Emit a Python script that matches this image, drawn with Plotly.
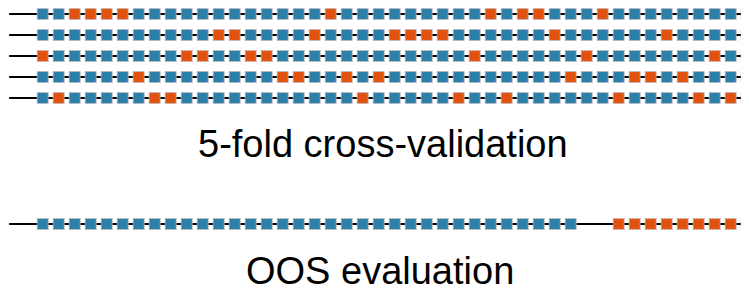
import plotly.graph_objects as go

# ---- data ----
n_samples = 45
fold_test_idx = [
    [2, 3, 4, 5, 18, 28, 30, 31, 35],
    [11, 12, 17, 22, 23, 24, 25, 32, 39],
    [0, 9, 10, 13, 14, 27, 34, 42, 44],
    [6, 15, 16, 19, 21, 33, 37, 38, 40],
    [1, 7, 8, 20, 26, 29, 36, 41, 43],
]
oos_train_idx = list(range(0, 34))
oos_test_idx = list(range(36, 45))
fold_rows = [0, 1, 2, 3, 4]
oos_row = 10
labels = ["5-fold cross-validation", "OOS evaluation"]
label_x = [21.27, 21.05]
label_rows = [6.2, 12.25]

BLUE = "#2b7fa8"
ORANGE = "#e0520e"
EDGE = "rgba(185,185,185,0.75)"

# the page body has an 8px default margin; figure sized so it ends at the window edge
FIG_W, FIG_H = 741, 281
X0_PX, DX_PX = 34.7, 16.0   # figure px of index 0, px per index
Y0_PX, DY_PX = 6.0, 21.0    # figure px of row 0, px per row

fig = go.Figure()

line_x = [-2.1, n_samples + 2]

def add_row(row, train, test):
    fig.add_trace(go.Scatter(x=line_x, y=[row, row], mode="lines",
                             line=dict(color="black", width=2),
                             hoverinfo="skip", showlegend=False))
    fig.add_trace(go.Scatter(x=train, y=[row] * len(train), mode="markers",
                             marker=dict(symbol="square", size=11, color=BLUE,
                                         line=dict(color=EDGE, width=1)),
                             showlegend=False))
    fig.add_trace(go.Scatter(x=test, y=[row] * len(test), mode="markers",
                             marker=dict(symbol="square", size=11, color=ORANGE,
                                         line=dict(color=EDGE, width=1)),
                             showlegend=False))

for r, test in zip(fold_rows, fold_test_idx):
    train = [i for i in range(n_samples) if i not in test]
    add_row(r, train, test)

add_row(oos_row, oos_train_idx, oos_test_idx)

for lab, lx, ry in zip(labels, label_x, label_rows):
    fig.add_annotation(x=lx, y=ry, xref="x", yref="y", text=lab,
                       showarrow=False, xanchor="center", yanchor="middle",
                       font=dict(family="Liberation Sans, Arial, sans-serif",
                                 size=38, color="black"))

fig.update_layout(
    width=FIG_W, height=FIG_H,
    margin=dict(l=0, r=0, t=0, b=0),
    paper_bgcolor="white", plot_bgcolor="white",
    xaxis=dict(range=[-X0_PX / DX_PX, (FIG_W - X0_PX) / DX_PX], visible=False,
               fixedrange=True),
    yaxis=dict(range=[(FIG_H - Y0_PX) / DY_PX, -Y0_PX / DY_PX], visible=False,
               fixedrange=True),
    showlegend=False,
)

fig.write_html("out.html")
